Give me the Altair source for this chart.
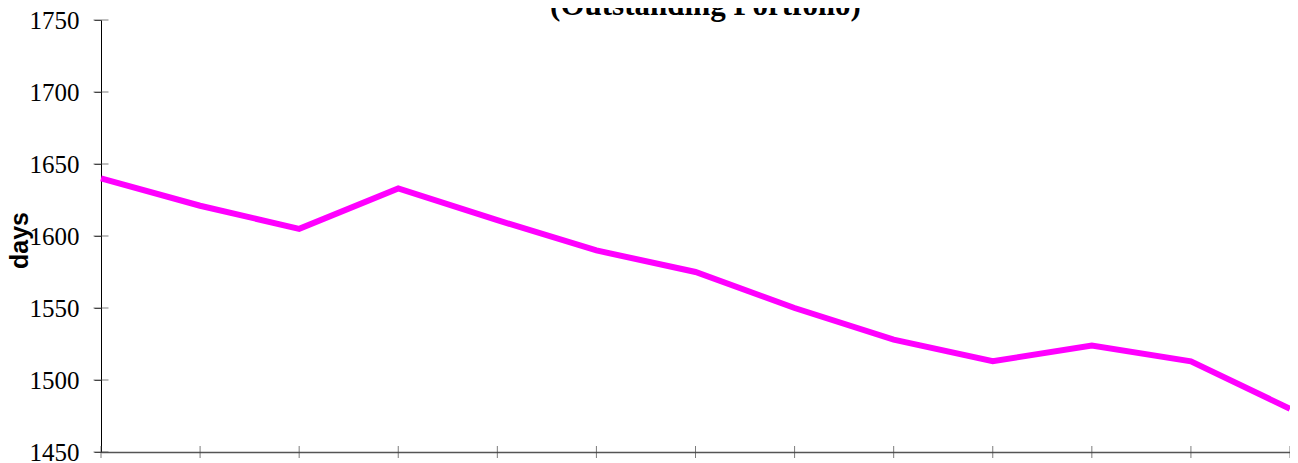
import altair as alt
import pandas as pd

periods = list(range(13))
days = [1640, 1621, 1605, 1633, 1611, 1590, 1575, 1550, 1528, 1513, 1524, 1513, 1480]
y_ticks = [1450, 1500, 1550, 1600, 1650, 1700, 1750]
title_text = ["(Outstanding Portfolio)"]

df = pd.DataFrame({"period": periods, "days": days})
yt = pd.DataFrame({"v": y_ticks})
xt = pd.DataFrame({"p": periods})
tt = pd.DataFrame({"t": title_text})

W, H = 1189, 432
xscale = alt.Scale(domain=[0, 12], nice=False, zero=False)
yscale = alt.Scale(domain=[1450, 1750], nice=False, zero=False)

line = alt.Chart(df).mark_line(color="#FF00FF", strokeWidth=6, clip=False).encode(
    x=alt.X("period:Q", scale=xscale,
            axis=alt.Axis(labels=False, ticks=False, title=None, grid=False,
                          domainColor="#555555", domainWidth=1.5)),
    y=alt.Y("days:Q", scale=yscale,
            axis=alt.Axis(values=y_ticks, format="d", grid=False, ticks=True, tickSize=7,
                          tickColor="#444444", domainColor="#000000", domainWidth=1,
                          labelFont="Liberation Serif", labelFontSize=25, labelColor="#000000",
                          labelPadding=15,
                          title="days", titleFont="Liberation Sans", titleFontSize=25,
                          titleFontWeight="bold", titleColor="#000000", titleAngle=270,
                          titleX=-74, titleY=220, titleAlign="center",
                          titleBaseline="alphabetic")),
)

yticks = alt.Chart(yt).mark_tick(orient="horizontal", size=15, thickness=1, color="#444444").encode(
    y=alt.Y("v:Q", scale=yscale),
    x=alt.value(0),
)

xticks = alt.Chart(xt).mark_tick(orient="vertical", size=12, thickness=1, color="#444444").encode(
    x=alt.X("p:Q", scale=xscale),
    y=alt.value(H),
)

title = alt.Chart(tt).mark_text(font="Liberation Serif", fontSize=31, fontWeight="bold",
                                color="#000000", align="center", baseline="alphabetic").encode(
    text="t:N",
    x=alt.value(W / 2 + 10),
    y=alt.value(-5.5),
)

chart = alt.layer(line, yticks, xticks, title).properties(
    width=W, height=H,
    autosize=alt.AutoSizeParams(type="none"),
    padding={"left": 93, "top": 12, "right": 0, "bottom": 20},
).configure(background="white", view=alt.ViewConfig(strokeWidth=0, stroke="transparent"))

chart.save("out.html", embed_options={"renderer": "svg", "actions": False})
